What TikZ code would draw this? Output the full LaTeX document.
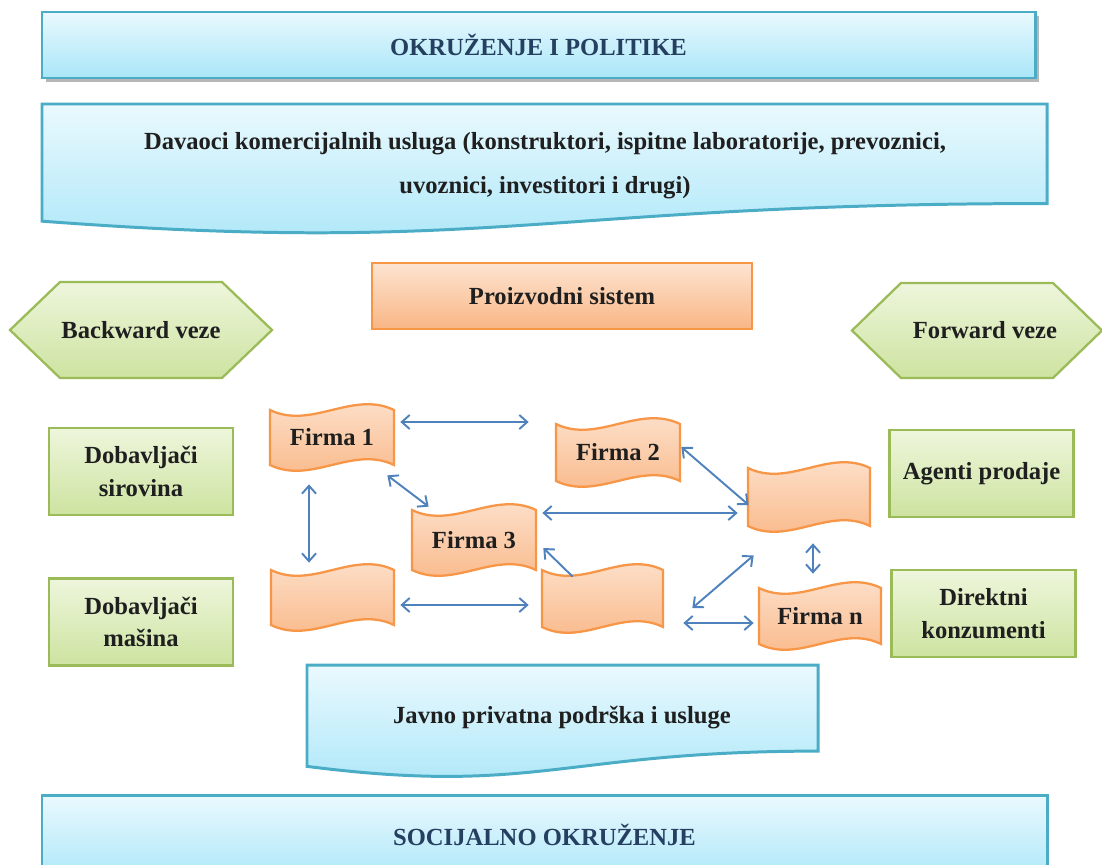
\documentclass[tikz,border=0pt]{standalone}
\usepackage{fontspec}
\setmainfont{Liberation Serif}
\usetikzlibrary{arrows.meta,shadows,calc}

\definecolor{bluLine}{HTML}{4BACC6}
\definecolor{bluTop}{HTML}{EAF9FE}
\definecolor{bluBot}{HTML}{A9E6F8}
\definecolor{orLine}{HTML}{F79646}
\definecolor{orTop}{HTML}{FDE4D1}
\definecolor{orBot}{HTML}{F9B685}
\definecolor{grLine}{HTML}{9BBB59}
\definecolor{grTop}{HTML}{EEF6DC}
\definecolor{grBot}{HTML}{CDE3A0}
\definecolor{arrBlue}{HTML}{4F81BD}
\definecolor{bannerText}{HTML}{243F60}

\tikzset{
  txt/.style={font=\bfseries\fontsize{14}{18.7}\selectfont, text=black!88, align=center},
  bluefill/.style={top color=bluTop, bottom color=bluBot, draw=bluLine, line width=1.7pt},
  orangefill/.style={top color=orTop, bottom color=orBot, draw=orLine, line width=1.3pt},
  greenfill/.style={top color=grTop, bottom color=grBot, draw=grLine, line width=1.3pt},
  banner/.style={bluefill, txt, text=bannerText, minimum width=993*0.02cm, minimum height=66*0.02cm},
  greenbox/.style={greenfill, txt, minimum width=184*0.02cm, minimum height=87*0.02cm},
  link/.style={arrBlue, line width=1.1pt, {Straight Barb[length=4.5pt,width=8pt]}-{Straight Barb[length=4.5pt,width=8pt]}},
  onelink/.style={arrBlue, line width=1.1pt, -{Straight Barb[length=4.5pt,width=8pt]}},
}

% document outline: left x, top y, width, height
\newcommand\docpath[4]{%
  (#1,#2) -- ({#1+#3},#2) -- ({#1+#3},{#2+0.79*#4})
  .. controls ({#1+0.5*#3},{#2+0.79*#4}) and ({#1+0.45*#3},{#2+1.2*#4})
  .. (#1,{#2+0.93*#4}) -- cycle}

% waving banner: left x, top y, width, height
\newcommand\wavepath[4]{%
  (#1,#2) .. controls ({#1+#3/3},{#2+20}) and ({#1+2*#3/3},{#2-20}) .. ({#1+#3},#2)
  -- ({#1+#3},{#2+#4})
  .. controls ({#1+2*#3/3},{#2+#4-20}) and ({#1+#3/3},{#2+#4+20}) .. (#1,{#2+#4}) -- cycle}

% waving firm shape with its named text node
\newcommand\firm[6]{%
  \path[orangefill] \wavepath{#2}{#3}{#4}{#5};
  \node[txt, minimum width=#4*0.02cm, minimum height=#5*0.02cm, inner sep=0pt]
    (#1) at ({#2+#4/2},{#3+#5/2}) {#6};}

% flat-topped hexagon: left point x, right point x, top y, bottom y, inset
\newcommand\hexpath[5]{%
  (#1,{(#3+#4)/2}) -- ({#1+#5},#3) -- ({#2-#5},#3) -- (#2,{(#3+#4)/2})
  -- ({#2-#5},#4) -- ({#1+#5},#4) -- cycle}

\begin{document}
\begin{tikzpicture}[x=0.02cm, y=-0.02cm]
\useasboundingbox (0,0) rectangle (1102,865);

% outer layers
\node[banner, drop shadow={shadow xshift=2.4pt, shadow yshift=-2.4pt, fill=black!40, opacity=0.7}]
  (env) at (538.5,45) {OKRUŽENJE I POLITIKE};

\path[bluefill] \docpath{42}{104}{1005}{126};
\node[txt, font=\bfseries\fontsize{14}{25}\selectfont] (com) at (545,166)
  {Davaoci komercijalnih usluga (konstruktori, ispitne laboratorije, prevoznici,\\
   uvoznici, investitori i drugi)};

\path[bluefill] \docpath{307}{665}{511}{109};
\node[txt] (sup) at (562,718) {Javno privatna podrška i usluge};

\path[bluefill] (42,795) rectangle (1047,885);
\node[txt, text=bannerText] (soc) at (544.5,835) {SOCIJALNO OKRUŽENJE};

% production system header
\node[orangefill, txt, minimum width=380*0.02cm, minimum height=66*0.02cm]
  (sys) at (562,296) {Proizvodni sistem};

% linkage directions
\path[greenfill] \hexpath{10}{272}{282}{378}{50};
\node[txt] (bw) at (141,330) {Backward veze};
\path[greenfill] \hexpath{852}{1102}{283}{378}{49};
\node[txt] (fw) at (985,330) {Forward veze};

% suppliers and customers
\node[greenbox] (raw) at (141,471.5) {Dobavljači\\sirovina};
\node[greenbox] (mach) at (141,622) {Dobavljači\\mašina};
\node[greenbox] (agt) at (981.5,473.5) {Agenti prodaje};
\node[greenbox] (dir) at (983.5,613.5) {Direktni\\konzumenti};

% firms
\firm{f1}{270}{410}{124}{55}{Firma 1}
\firm{f2}{556}{424}{124}{57}{Firma 2}
\firm{f3}{412}{510}{124}{60}{Firma 3}
\firm{w4}{271}{570}{123}{55}{}
\firm{w5}{542}{570}{121}{57}{}
\firm{w6}{748}{468}{122}{58}{}
\firm{fn}{759}{588}{122}{56}{Firma n}

% links between firms
\draw[link] ($(f1.east)+(6,-15.5)$) -- ($(f2.west)+(-27,-30.5)$);
\draw[link] ($(f1.south east)+(-7,10)$) -- ($(f3.north west)+(17,-3)$);
\draw[link] ($(f1.south)+(-23,19)$) -- ($(w4.north)+(-23.5,-7)$);
\draw[link] ($(w4.east)+(6,7.5)$) -- ($(w5.west)+(-13,6.5)$);
\draw[link] ($(f3.east)+(6,-27)$) -- ($(w6.west)+(-10,16)$);
\draw[onelink] ($(w5.north west)+(31,7)$) -- ($(f3.east)+(7,8)$);
\draw[link] ($(f2.east)+(1,-5.5)$) -- ($(w6.west)+(1,8)$);
\draw[link] ($(w6.south)+(4,17)$) -- ($(fn.north)+(-7,-14)$);
\draw[link] ($(w5.east)+(29,9.5)$) -- ($(w6.south west)+(6,29)$);
\draw[link] ($(w5.east)+(20,24.5)$) -- ($(fn.west)+(-5,7)$);
\end{tikzpicture}
\end{document}
